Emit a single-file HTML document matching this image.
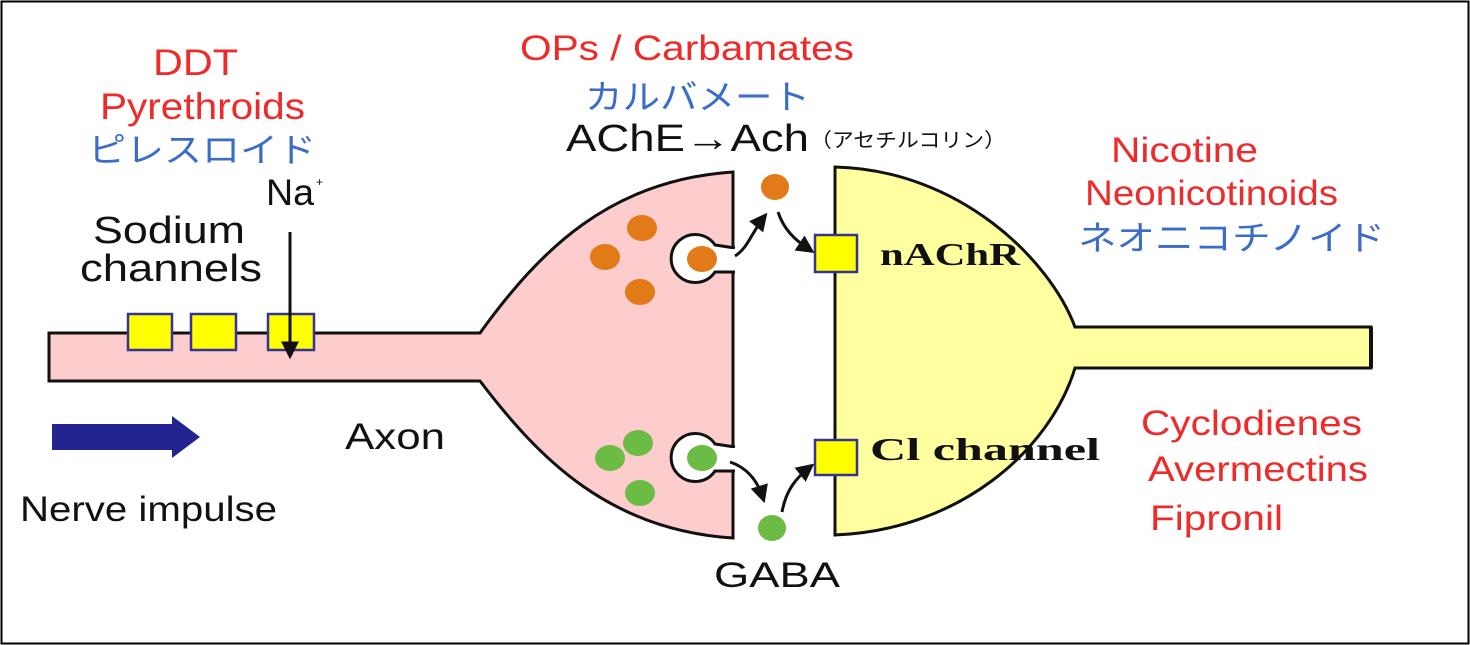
<!DOCTYPE html>
<html><head><meta charset="utf-8"><style>
html,body{margin:0;padding:0;background:#fff;width:1470px;height:645px;overflow:hidden}
svg{display:block}
text{font-family:"Liberation Sans","Noto Sans CJK JP",sans-serif}
.r{fill:#ee2a2a}.b{fill:#3a6cc8}.k{fill:#111}
</style></head><body>
<svg width="1470" height="645" viewBox="0 0 1470 645" xmlns="http://www.w3.org/2000/svg">
<defs>
<marker id="ah" viewBox="0 0 10 10" refX="7" refY="5" markerWidth="6" markerHeight="6" orient="auto"><path d="M0,0 L10,5 L0,10 z" fill="#111"/></marker>
</defs>
<rect x="1.5" y="1.5" width="1467" height="642" fill="#fff" stroke="#000" stroke-width="2"/>

<path d="M49,333 L480,333 C540,250 610,180 733,172 L733,538 C610,530 540,460 480,381 L49,381 Z" fill="#fdcccc" stroke="#111" stroke-width="3"/>
<path d="M735,248 L715,245 A24,24 0 1 0 715,272 L735,272" fill="#fff" stroke="#111" stroke-width="3"/>
<rect x="712" y="249" width="24" height="21" fill="#fff"/>
<path d="M735,447 L715,444 A24,24 0 1 0 715,471 L735,471" fill="#fff" stroke="#111" stroke-width="3"/>
<rect x="712" y="448" width="24" height="21" fill="#fff"/>

<path d="M835,167 C960,170 1050,260 1075,327 L1371,327 L1371,368 L1075,368 C1050,450 960,530 835,535 Z" fill="#ffffa0" stroke="#111" stroke-width="3"/>
<rect x="1272" y="329" width="97" height="37" fill="#ffffa0"/>
<line x1="1371" y1="327" x2="1371" y2="368" stroke="#111" stroke-width="4"/>

<g fill="#e27a17">
<ellipse cx="642" cy="228" rx="15" ry="13"/>
<ellipse cx="605" cy="257" rx="15" ry="13"/>
<ellipse cx="640" cy="292" rx="15" ry="13"/>
<ellipse cx="702" cy="259" rx="15" ry="13"/>
<ellipse cx="775" cy="187" rx="14" ry="13"/>
</g>
<g fill="#6cbb45">
<ellipse cx="638" cy="443" rx="15" ry="13"/>
<ellipse cx="610" cy="458" rx="15" ry="13"/>
<ellipse cx="640" cy="493" rx="15" ry="13"/>
<ellipse cx="702" cy="458" rx="15" ry="13"/>
<ellipse cx="772" cy="528" rx="14" ry="13"/>
</g>

<g fill="#ffff00" stroke="#33339a" stroke-width="2.5">
<rect x="128" y="314" width="44" height="36"/>
<rect x="191" y="314" width="45" height="36"/>
<rect x="268" y="314" width="46" height="36"/>
<rect x="815" y="235" width="42" height="37"/>
<rect x="815" y="440" width="42" height="35"/>
</g>

<g fill="none" stroke="#111" stroke-width="3" marker-end="url(#ah)">
<path d="M735,256 C748,248 752,232 764,217"/>
<path d="M778,212 C784,230 795,240 810,250"/>
<path d="M730,462 C748,468 758,482 763,498"/>
<path d="M782,512 C786,490 796,478 810,467"/>
<path d="M290,232 L290,354"/>
</g>

<path d="M52,424 L172,424 L172,416 L200,437 L172,458 L172,450 L52,450 Z" fill="#23248f"/>

<text x="153" y="75" font-size="37" class="r" textLength="85" lengthAdjust="spacingAndGlyphs">DDT</text>
<text x="100" y="119" font-size="37" class="r" textLength="205" lengthAdjust="spacingAndGlyphs">Pyrethroids</text>
<text x="88" y="162" font-size="34" class="b" textLength="228" lengthAdjust="spacingAndGlyphs">ピレスロイド</text>
<text x="266" y="205" font-size="37" class="k" textLength="48" lengthAdjust="spacingAndGlyphs">Na</text>
<text x="316" y="186" font-size="12" class="k">+</text>
<text x="93" y="243" font-size="38" class="k" textLength="152" lengthAdjust="spacingAndGlyphs">Sodium</text>
<text x="80" y="281" font-size="38" class="k" textLength="182" lengthAdjust="spacingAndGlyphs">channels</text>
<text x="345" y="449" font-size="37" class="k" textLength="100" lengthAdjust="spacingAndGlyphs">Axon</text>
<text x="20" y="521" font-size="35" class="k" textLength="257" lengthAdjust="spacingAndGlyphs">Nerve impulse</text>

<text x="520" y="60" font-size="35" class="r" textLength="334" lengthAdjust="spacingAndGlyphs">OPs / Carbamates</text>
<text x="585" y="109" font-size="34" class="b" textLength="225" lengthAdjust="spacingAndGlyphs">カルバメート</text>
<text x="566" y="151" font-size="38" class="k" textLength="243" lengthAdjust="spacingAndGlyphs">AChE→Ach</text>
<text x="810" y="147" font-size="20" class="k" textLength="196" lengthAdjust="spacingAndGlyphs">（アセチルコリン）</text>

<text x="880" y="265" font-size="32" font-weight="bold" class="k" style="font-family:'Liberation Serif',serif" textLength="140" lengthAdjust="spacingAndGlyphs">nAChR</text>
<text x="870" y="460" font-size="32" font-weight="bold" class="k" style="font-family:'Liberation Serif',serif" textLength="230" lengthAdjust="spacingAndGlyphs">Cl channel</text>
<text x="714" y="587" font-size="35" class="k" textLength="126" lengthAdjust="spacingAndGlyphs">GABA</text>

<text x="1111" y="162" font-size="35" class="r" textLength="147" lengthAdjust="spacingAndGlyphs">Nicotine</text>
<text x="1085" y="205" font-size="35" class="r" textLength="253" lengthAdjust="spacingAndGlyphs">Neonicotinoids</text>
<text x="1078" y="250" font-size="34" class="b" textLength="307" lengthAdjust="spacingAndGlyphs">ネオニコチノイド</text>
<text x="1141" y="435" font-size="35" class="r" textLength="221" lengthAdjust="spacingAndGlyphs">Cyclodienes</text>
<text x="1148" y="481" font-size="35" class="r" textLength="220" lengthAdjust="spacingAndGlyphs">Avermectins</text>
<text x="1150" y="530" font-size="35" class="r" textLength="133" lengthAdjust="spacingAndGlyphs">Fipronil</text>
</svg>
</body></html>
